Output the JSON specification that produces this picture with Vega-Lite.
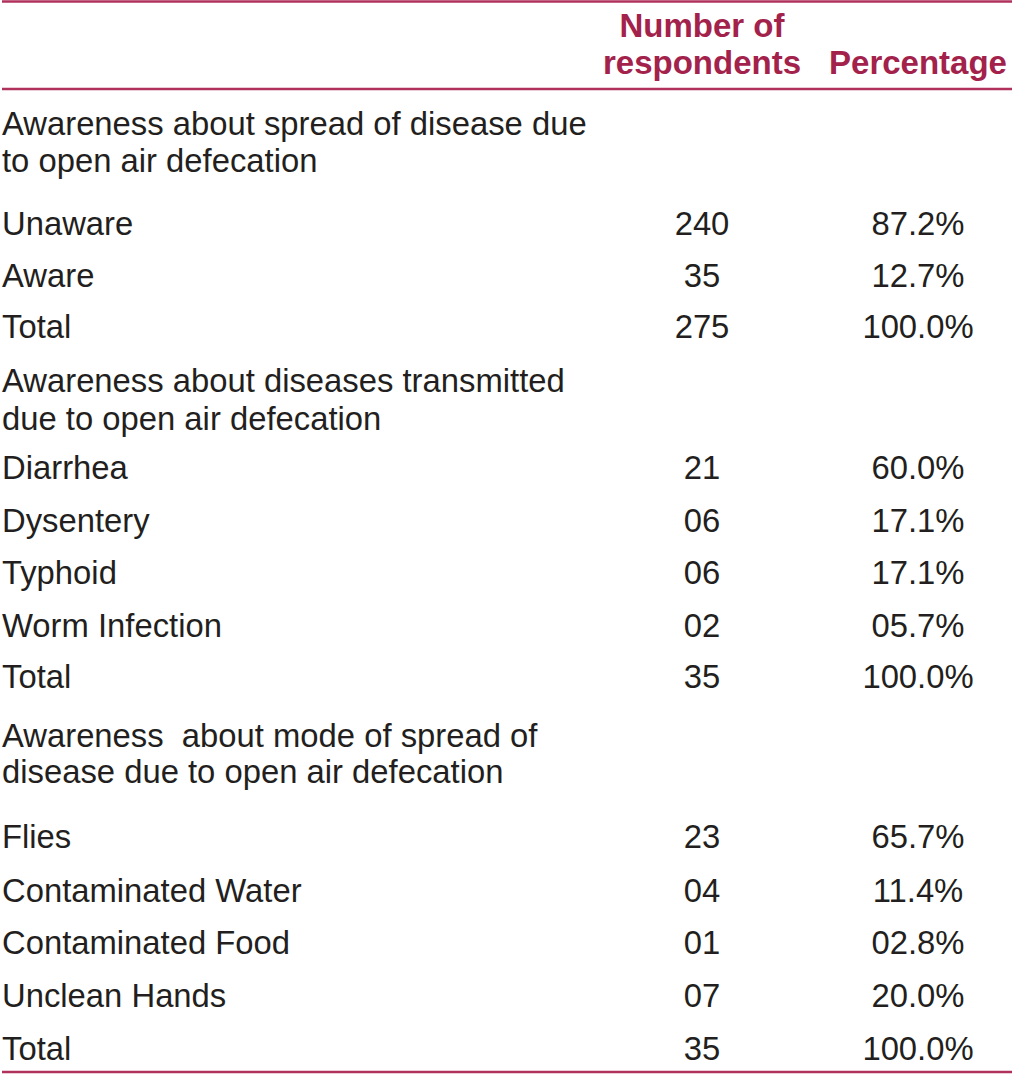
{
  "$schema": "https://vega.github.io/schema/vega-lite/v6.json",
  "width": 1014,
  "height": 1078,
  "padding": 0,
  "autosize": {"type": "fit", "contains": "padding"},
  "background": "white",
  "config": {"view": {"stroke": null}, "text": {"font": "Liberation Sans"}},
  "datasets": {
    "rows": [
      {"line": 0, "kind": "head", "n": "Number of"},
      {"line": 1, "kind": "head", "n": "respondents", "pct": "Percentage"},
      {"line": 2, "kind": "body", "label": "Awareness about spread of disease due"},
      {"line": 3, "kind": "body", "label": "to open air defecation"},
      {"line": 4, "kind": "body", "label": "Unaware", "n": "240", "pct": "87.2%"},
      {"line": 5, "kind": "body", "label": "Aware", "n": "35", "pct": "12.7%"},
      {"line": 6, "kind": "body", "label": "Total", "n": "275", "pct": "100.0%"},
      {"line": 7, "kind": "body", "label": "Awareness about diseases transmitted"},
      {"line": 8, "kind": "body", "label": "due to open air defecation"},
      {"line": 9, "kind": "body", "label": "Diarrhea", "n": "21", "pct": "60.0%"},
      {"line": 10, "kind": "body", "label": "Dysentery", "n": "06", "pct": "17.1%"},
      {"line": 11, "kind": "body", "label": "Typhoid", "n": "06", "pct": "17.1%"},
      {"line": 12, "kind": "body", "label": "Worm Infection", "n": "02", "pct": "05.7%"},
      {"line": 13, "kind": "body", "label": "Total", "n": "35", "pct": "100.0%"},
      {"line": 14, "kind": "body", "label": "Awareness\u00a0 about mode of spread of"},
      {"line": 15, "kind": "body", "label": "disease due to open air defecation"},
      {"line": 16, "kind": "body", "label": "Flies", "n": "23", "pct": "65.7%"},
      {"line": 17, "kind": "body", "label": "Contaminated Water", "n": "04", "pct": "11.4%"},
      {"line": 18, "kind": "body", "label": "Contaminated Food", "n": "01", "pct": "02.8%"},
      {"line": 19, "kind": "body", "label": "Unclean Hands", "n": "07", "pct": "20.0%"},
      {"line": 20, "kind": "body", "label": "Total", "n": "35", "pct": "100.0%"}
    ],
    "rules": [
      {"line": -1},
      {"line": 1.5},
      {"line": 21}
    ]
  },
  "encoding": {
    "y": {
      "field": "line",
      "type": "quantitative",
      "axis": null,
      "scale": {
        "domain": [-1, 0, 1, 1.5, 2, 3, 4, 5, 6, 7, 8, 9, 10, 11, 12, 13, 14, 15, 16, 17, 18, 19, 20, 21],
        "range": [1.5, 37, 74, 89, 135, 172, 235, 287, 338, 392, 430, 479, 532, 584, 637, 688, 747, 783, 848, 902, 954, 1007, 1060, 1072],
        "zero": false,
        "nice": false
      }
    }
  },
  "layer": [
    {
      "data": {"name": "rules"},
      "mark": {"type": "rule", "stroke": "#b0325c", "strokeWidth": 2.5},
      "encoding": {}
    },
    {
      "data": {"name": "rows"},
      "transform": [{"filter": "datum.kind === 'body' && isValid(datum.label)"}],
      "mark": {"type": "text", "align": "left", "baseline": "alphabetic", "fontSize": 32.8, "color": "#231f20"},
      "encoding": {
        "x": {"datum": 0, "type": "quantitative", "axis": null, "scale": {"domain": [0, 1, 2], "range": [0, 700, 916], "zero": false, "nice": false}},
        "text": {"field": "label", "type": "nominal"}
      }
    },
    {
      "data": {"name": "rows"},
      "transform": [{"filter": "datum.kind === 'body' && isValid(datum.n)"}],
      "mark": {"type": "text", "align": "center", "baseline": "alphabetic", "fontSize": 32.8, "color": "#231f20"},
      "encoding": {
        "x": {"datum": 1, "type": "quantitative"},
        "text": {"field": "n", "type": "nominal"}
      }
    },
    {
      "data": {"name": "rows"},
      "transform": [{"filter": "datum.kind === 'body' && isValid(datum.pct)"}],
      "mark": {"type": "text", "align": "center", "baseline": "alphabetic", "fontSize": 32.8, "color": "#231f20"},
      "encoding": {
        "x": {"datum": 2, "type": "quantitative"},
        "text": {"field": "pct", "type": "nominal"}
      }
    },
    {
      "data": {"name": "rows"},
      "transform": [{"filter": "datum.kind === 'head' && isValid(datum.n)"}],
      "mark": {"type": "text", "align": "center", "baseline": "alphabetic", "fontSize": 33, "fontWeight": "bold", "color": "#a3224b"},
      "encoding": {
        "x": {"datum": 1, "type": "quantitative"},
        "text": {"field": "n", "type": "nominal"}
      }
    },
    {
      "data": {"name": "rows"},
      "transform": [{"filter": "datum.kind === 'head' && isValid(datum.pct)"}],
      "mark": {"type": "text", "align": "center", "baseline": "alphabetic", "fontSize": 33, "fontWeight": "bold", "color": "#a3224b"},
      "encoding": {
        "x": {"datum": 2, "type": "quantitative"},
        "text": {"field": "pct", "type": "nominal"}
      }
    }
  ]
}
